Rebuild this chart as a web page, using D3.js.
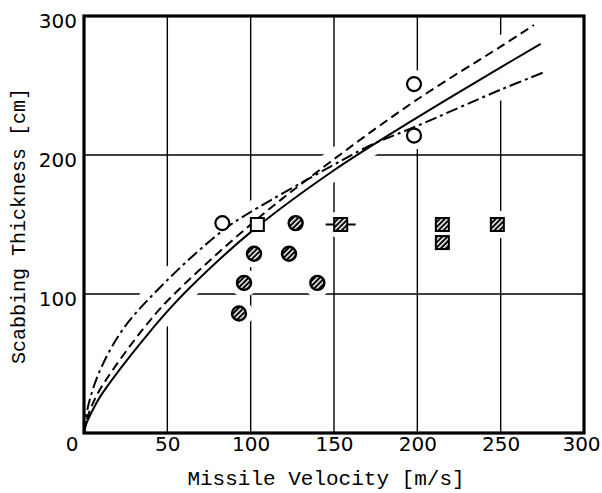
<!DOCTYPE html>
<html>
<head>
<meta charset="utf-8">
<script src="https://cdn.jsdelivr.net/npm/d3@7"></script>
<style>
  body { margin: 0; background: #fff; }
  svg { display: block; }
</style>
</head>
<body>
<svg id="chart" width="602" height="493"></svg>
<script>
// curves [velocity m/s, thickness cm]
var solidCurve = [[0,0],[1.5,7],[5,16],[9.6,26],[21.6,46],[39.6,73],[50,87.5],[63,104],[100,144.5],[150,189],[200,227],[250,263],[274,280]];
var dashedCurve = [[0,0],[2,11],[7.6,27],[17.6,46],[35.6,75],[50,95],[100,150],[150,197],[200,240],[250,278],[270,293.5]];
var dashDotCurve = [[0,0],[2.6,20],[9.6,45],[23.6,75],[50,110],[83.6,146],[100,159],[150,193],[172,207],[200,221],[250,247],[277,260]];

// test points
var openCircles = [[83,151],[198,251],[198,214]];
var openSquares = [[104,150]];
var hatchCircles = [[127,151],[102,129],[123,129],[96,108],[93,86],[140,108]];
var hatchSquares = [[154,150],[215,150],[215,137],[248,150]];
var errorBars = [[145,163,150]]; // [xFrom, xTo, y]

var xTicks = [50,100,150,200,250,300];
var yTicks = [100,200,300];
var xGrid = [50,100,150,200,250];
var yGrid = [100,200];

var margin = {top: 16, right: 18, bottom: 60, left: 84};
var width = 602 - margin.left - margin.right;
var height = 493 - margin.top - margin.bottom;

var svg = d3.select("#chart");

var defs = svg.append("defs");
var pat = defs.append("pattern")
	.attr("id", "hatch")
	.attr("width", 3.6)
	.attr("height", 3.6)
	.attr("patternUnits", "userSpaceOnUse")
	.attr("patternTransform", "rotate(45)");
pat.append("rect").attr("width", 3.6).attr("height", 3.6).attr("fill", "#000");
pat.append("rect").attr("width", 1.5).attr("height", 3.6).attr("fill", "#fff");

var g = svg.append("g")
	.attr("transform", "translate(" + margin.left + "," + margin.top + ")");

var x = d3.scaleLinear().domain([0, 300]).range([0, width]);
var y = d3.scaleLinear().domain([0, 300]).range([height, 0]);

//grid
g.selectAll(".gx").data(xGrid).enter().append("line")
	.attr("x1", d => x(d)).attr("x2", d => x(d))
	.attr("y1", 0).attr("y2", height)
	.attr("stroke", "#000").attr("stroke-width", 1.4);
g.selectAll(".gy").data(yGrid).enter().append("line")
	.attr("x1", 0).attr("x2", width)
	.attr("y1", d => y(d)).attr("y2", d => y(d))
	.attr("stroke", "#000").attr("stroke-width", 1.4);

var line = d3.line()
	.curve(d3.curveCatmullRom.alpha(0.5))
	.x(d => x(d[0]))
	.y(d => y(d[1]));

var curves = [
	{data: solidCurve, dash: null},
	{data: dashedCurve, dash: "9,5"},
	{data: dashDotCurve, dash: "12,4,3,4"}
];

// white halos break the grid where curves and points sit
curves.forEach(function(c) {
	g.append("path").datum(c.data)
		.attr("d", line)
		.attr("fill", "none")
		.attr("stroke", "#fff")
		.attr("stroke-width", 20)
		.attr("stroke-linecap", "butt");
});
var allPts = openCircles.concat(openSquares, hatchCircles, hatchSquares);
g.selectAll(".halo").data(allPts).enter().append("circle")
	.attr("cx", d => x(d[0])).attr("cy", d => y(d[1]))
	.attr("r", 14).attr("fill", "#fff");
g.selectAll(".ehalo").data(errorBars).enter().append("rect")
	.attr("x", d => x(d[0]) - 4).attr("y", d => y(d[2]) - 10)
	.attr("width", d => x(d[1]) - x(d[0]) + 8).attr("height", 20)
	.attr("fill", "#fff");

curves.forEach(function(c) {
	g.append("path").datum(c.data)
		.attr("d", line)
		.attr("fill", "none")
		.attr("stroke", "#000")
		.attr("stroke-width", 2)
		.attr("stroke-dasharray", c.dash);
});

//frame
g.append("rect")
	.attr("width", width).attr("height", height)
	.attr("fill", "none").attr("stroke", "#000").attr("stroke-width", 3.2);

//points
g.selectAll(".eb").data(errorBars).enter().append("line")
	.attr("x1", d => x(d[0])).attr("x2", d => x(d[1]))
	.attr("y1", d => y(d[2])).attr("y2", d => y(d[2]))
	.attr("stroke", "#000").attr("stroke-width", 2);

g.selectAll(".oc").data(openCircles).enter().append("circle")
	.attr("cx", d => x(d[0])).attr("cy", d => y(d[1]))
	.attr("r", 7).attr("fill", "#fff")
	.attr("stroke", "#000").attr("stroke-width", 2.2);

g.selectAll(".hc").data(hatchCircles).enter().append("circle")
	.attr("cx", d => x(d[0])).attr("cy", d => y(d[1]))
	.attr("r", 7).attr("fill", "url(#hatch)")
	.attr("stroke", "#000").attr("stroke-width", 2.4);

g.selectAll(".os").data(openSquares).enter().append("rect")
	.attr("x", d => x(d[0]) - 6.5).attr("y", d => y(d[1]) - 6.5)
	.attr("width", 13).attr("height", 13).attr("fill", "#fff")
	.attr("stroke", "#000").attr("stroke-width", 2);

g.selectAll(".hs").data(hatchSquares).enter().append("rect")
	.attr("x", d => x(d[0]) - 6.5).attr("y", d => y(d[1]) - 6.5)
	.attr("width", 13).attr("height", 13).attr("fill", "url(#hatch)")
	.attr("stroke", "#000").attr("stroke-width", 2);

//axes
var fontTick = "'DejaVu Sans', sans-serif";
var xAxis = g.append("g")
	.attr("transform", "translate(0," + height + ")")
	.call(d3.axisBottom(x).tickValues(xTicks).tickSize(0).tickPadding(4));
var yAxis = g.append("g")
	.call(d3.axisLeft(y).tickValues(yTicks).tickSize(0).tickPadding(7));
[xAxis, yAxis].forEach(function(a) {
	a.select(".domain").remove();
	a.selectAll("text")
		.attr("font-family", fontTick)
		.attr("font-size", "20px")
		.attr("fill", "#000");
});
yAxis.selectAll("text").attr("dy", "0.55em");
// keep the last label inside the picture
xAxis.selectAll("text").filter(d => d === 300).attr("dx", "-3");

g.append("text")
	.attr("x", x(0) - 12)
	.attr("y", y(0) + 18)
	.attr("text-anchor", "middle")
	.attr("font-family", fontTick)
	.attr("font-size", "20px")
	.text("0");

//titles
svg.append("text")
	.attr("x", margin.left + width / 2 - 8)
	.attr("y", 485)
	.attr("text-anchor", "middle")
	.attr("font-family", "'Liberation Mono', monospace")
	.attr("font-size", "21px")
	.text("Missile Velocity [m/s]");

svg.append("text")
	.attr("transform", "translate(25,226) rotate(-90)")
	.attr("text-anchor", "middle")
	.attr("font-family", "'Liberation Mono', monospace")
	.attr("font-size", "20px")
	.text("Scabbing Thickness [cm]");
</script>
</body>
</html>
